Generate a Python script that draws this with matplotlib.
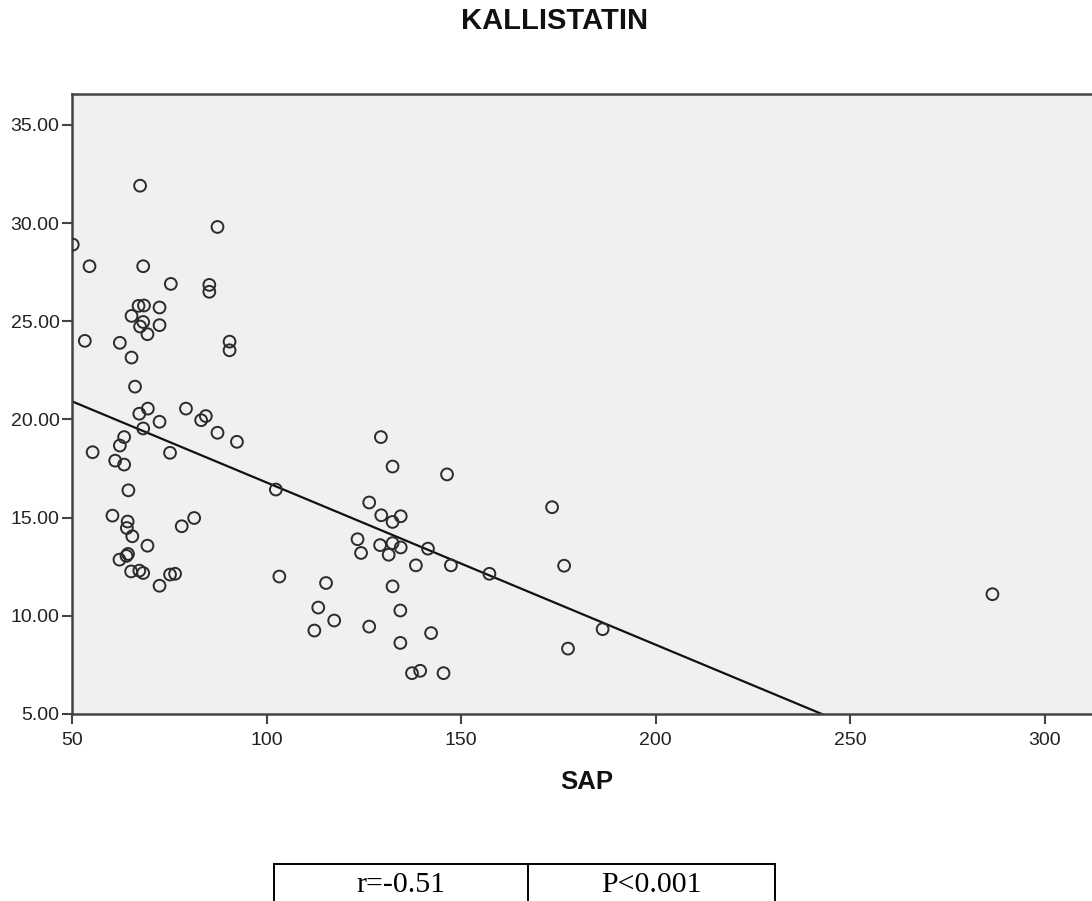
import numpy as np
import matplotlib
matplotlib.use("Agg")
import matplotlib.pyplot as plt

# ─────────────────────────────────────────────
# DATA
# ─────────────────────────────────────────────
sap = [
    67.5, 87.4, 50.2, 54.5, 68.3, 75.4, 85.3, 85.3, 67.1, 68.5,
    72.5, 65.3, 68.3, 67.5, 72.5, 69.4, 53.3, 62.3, 90.5, 90.5,
    65.3, 66.2, 67.3, 69.5, 79.3, 83.2, 84.4, 72.5, 68.3, 87.4,
    92.4, 63.4, 62.3, 55.3, 75.2, 61.1, 63.4, 64.5, 102.4, 60.4,
    81.4, 64.3, 64.1, 78.2, 65.5, 69.4, 62.2, 64.4, 64.0, 65.2,
    67.3, 68.3, 75.2, 76.5, 72.5, 103.3, 129.4, 132.4, 146.4, 126.4,
    129.5, 134.5, 132.4, 173.4, 123.4, 129.2, 132.4, 134.5, 124.3, 131.4,
    141.5, 138.4, 147.4, 157.3, 176.5, 115.3, 132.4, 113.3, 134.4, 117.4,
    112.3, 126.4, 142.3, 134.4, 186.4, 177.5, 137.4, 139.5, 145.5, 286.6,
]
kallistatin = [
    31.9, 29.8, 28.9, 27.8, 27.8, 26.9, 26.85, 26.5, 25.78, 25.8,
    25.7, 25.27, 24.96, 24.73, 24.8, 24.34, 24.0, 23.9, 23.96, 23.52,
    23.15, 21.67, 20.29, 20.55, 20.55, 19.96, 20.17, 19.88, 19.54, 19.32,
    18.86, 19.1, 18.67, 18.33, 18.3, 17.9, 17.7, 16.39, 16.43, 15.1,
    14.98, 14.8, 14.47, 14.56, 14.05, 13.57, 12.86, 13.15, 13.05, 12.26,
    12.3, 12.18, 12.1, 12.14, 11.53, 12.0, 19.1, 17.6, 17.2, 15.77,
    15.12, 15.07, 14.78, 15.53, 13.9, 13.6, 13.7, 13.48, 13.2, 13.11,
    13.42, 12.57, 12.57, 12.14, 12.55, 11.67, 11.5, 10.42, 10.27, 9.76,
    9.25, 9.45, 9.12, 8.62, 9.32, 8.33, 7.08, 7.2, 7.08, 11.1,
]

# fit line as drawn in the reference (y = a + b*x)
fit_intercept = 25.05
fit_slope = -0.0826

x_ticks = [50, 100, 150, 200, 250, 300]
y_ticks = [5, 10, 15, 20, 25, 30, 35]

stats_text = ["r=-0.51", "P<0.001"]

# ─────────────────────────────────────────────
# FIGURE
# ─────────────────────────────────────────────
plt.rcParams["font.family"] = ["Liberation Sans", "DejaVu Sans"]

W, H = 1092, 901
fig = plt.figure(figsize=(W / 100, H / 100), dpi=100)
ax = fig.add_axes([72 / W, 1 - 714 / H, 1 - 72 / W + 0.01, (714 - 94) / H])
ax.set_facecolor("#f0f0f0")

ax.scatter(sap, kallistatin, s=72, facecolors="none", edgecolors="#2b2b2b",
           linewidths=1.4, zorder=3)

fx = np.array([40, 330])
ax.plot(fx, fit_intercept + fit_slope * fx, color="#111111", lw=1.6, zorder=2)

ax.set_xlim(50, 315)
ax.set_ylim(5, 36.57)
ax.set_xticks(x_ticks)
ax.set_yticks(y_ticks)
ax.set_yticklabels([f"{v:.2f}" for v in y_ticks])

for side in ["left", "top", "bottom"]:
    ax.spines[side].set_color("#444444")
    ax.spines[side].set_linewidth(1.8)
ax.spines["right"].set_visible(False)

ax.tick_params(axis="both", direction="out", length=7.5, width=1.5,
               color="#444444", labelsize=14, labelcolor="#222222")
ax.tick_params(axis="y", pad=1.5)
ax.tick_params(axis="x", pad=5.5)

fig.text(555 / W, 1 - 21 / H, "KALLISTATIN", ha="center", va="center",
         fontsize=21, fontweight="bold", color="#111111")
fig.text(587 / W, 1 - 782 / H, "SAP", ha="center", va="center",
         fontsize=18.5, fontweight="bold", color="#111111")

# ─────────────────────────────────────────────
# STATS BOX below the chart
# ─────────────────────────────────────────────
left, mid, right, top = 274, 528, 775, 864
fig.add_artist(plt.Line2D([left / W, right / W], [1 - top / H] * 2,
                          color="black", lw=1.4, transform=fig.transFigure))
for xp in (left, mid, right):
    fig.add_artist(plt.Line2D([xp / W] * 2, [1 - top / H, -0.01],
                              color="black", lw=1.4, transform=fig.transFigure))
fig.text((left + mid) / 2 / W, 1 - 885 / H, stats_text[0], ha="center",
         va="center", fontsize=21.5, family="Liberation Serif")
fig.text((mid + right) / 2 / W, 1 - 885 / H, stats_text[1], ha="center",
         va="center", fontsize=21.5, family="Liberation Serif")

fig.savefig("out.png", dpi=100)
